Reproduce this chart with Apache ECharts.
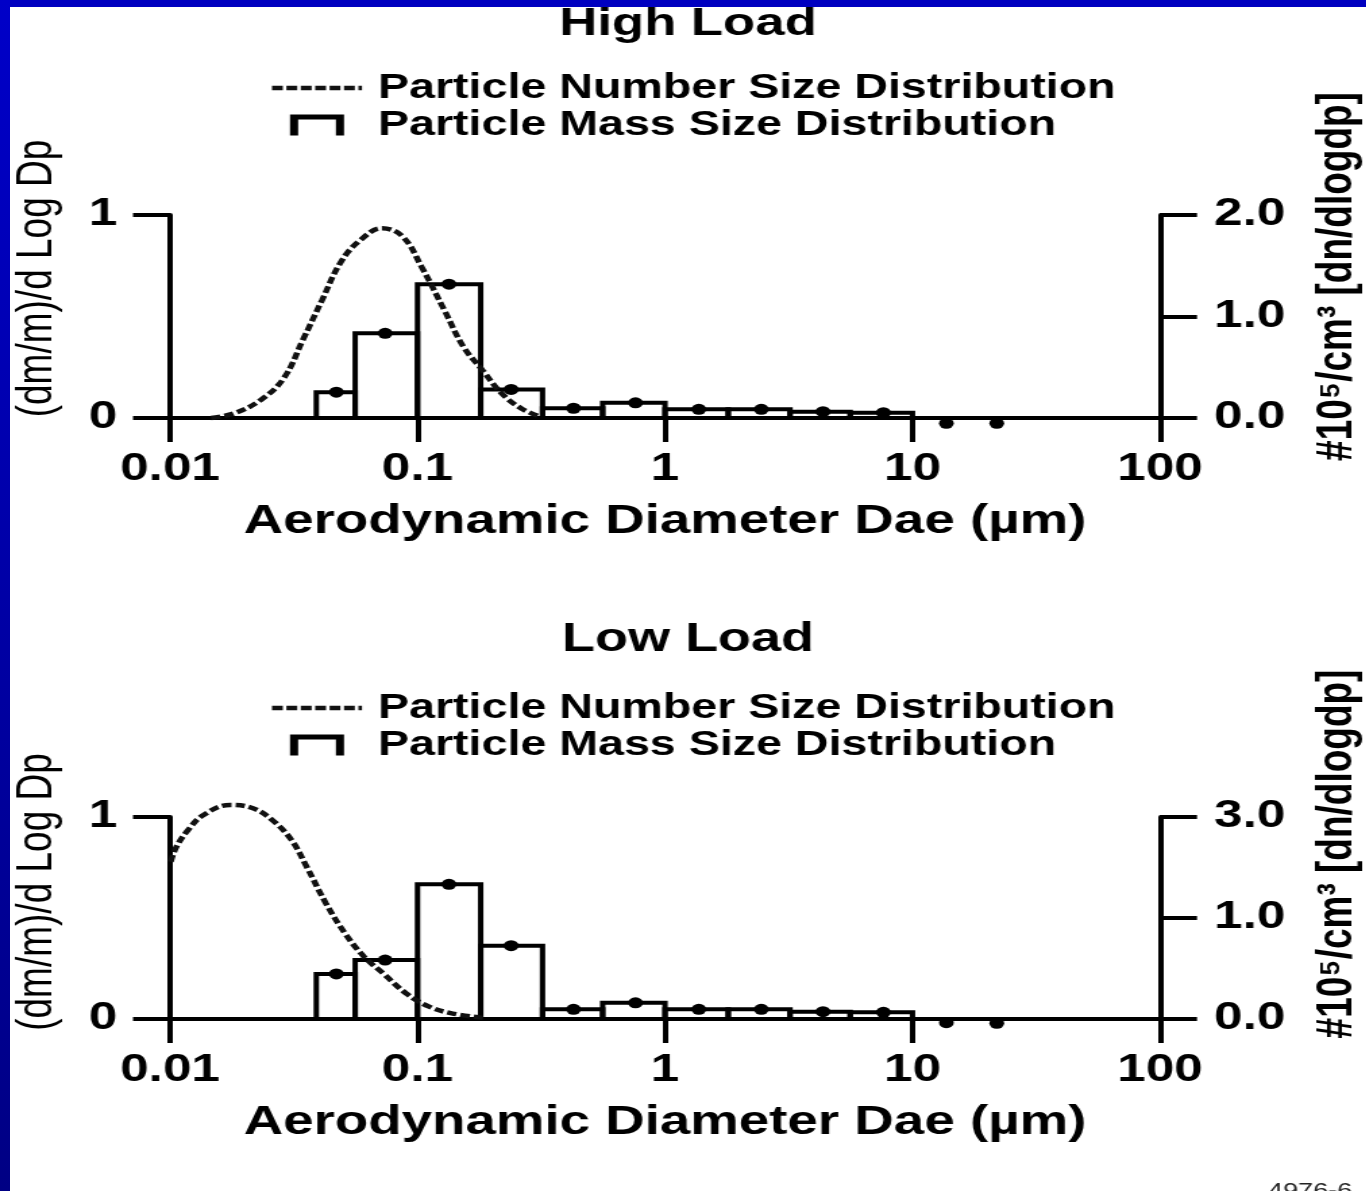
<!DOCTYPE html>
<html>
<head>
<meta charset="utf-8">
<script src="https://cdn.jsdelivr.net/npm/echarts@6/dist/echarts.min.js"></script>
<style>
  html, body { margin: 0; padding: 0; background: #fff; overflow: hidden; }
  /* the source picture is stretched sideways, so the chart is drawn narrow and widened */
  #chart { position: absolute; left: 0; top: 0; width: 1012px; height: 1191px;
           transform-origin: 0 0; transform: scaleX(1.35); }
  #topBar { position: absolute; left: 0; top: 0; width: 1366px; height: 7px; background: #0000c0; z-index: 2; }
  #leftBar { position: absolute; left: 0; top: 0; width: 10px; height: 1191px; z-index: 2;
             background: linear-gradient(#0000c8, #000084); }
</style>
</head>
<body>
<div id="chart"></div>
<div id="topBar"></div>
<div id="leftBar"></div>
<script>
// impactor stage edges (µm) and stage mid diameters where the dots sit
const stageLow = [0.039, 0.056, 0.1, 0.18, 0.32, 0.56, 1.0, 1.8, 3.2, 5.6, 10, 18];
const stageHigh = [0.056, 0.1, 0.18, 0.32, 0.56, 1.0, 1.8, 3.2, 5.6, 10, 18, 26.7];
const stageMid = [0.047, 0.074, 0.134, 0.239, 0.427, 0.76, 1.37, 2.45, 4.35, 7.63, 13.7, 21.9];

// (dm/m)/dlogDp, left axis
const highMass = [0.127, 0.417, 0.659, 0.141, 0.048, 0.075, 0.043, 0.043, 0.031, 0.026, -0.026, -0.026];
const lowMass = [0.223, 0.292, 0.667, 0.363, 0.048, 0.080, 0.048, 0.048, 0.036, 0.033, -0.018, -0.021];

// number size distribution, right axis
const highNumDiam = [0.01466, 0.01816, 0.02323, 0.02877, 0.03443, 0.04111, 0.04909, 0.05861, 0.07194,
  0.0869, 0.1038, 0.1285, 0.1535, 0.1832, 0.2193, 0.2618, 0.3126];
const highNumValue = [0, 0.046, 0.177, 0.39, 0.77, 1.16, 1.54, 1.75, 1.87,
  1.79, 1.49, 1.06, 0.70, 0.47, 0.24, 0.096, 0.013];
const lowNumDiam = [0.01007, 0.01062, 0.01183, 0.01365, 0.01746, 0.02163, 0.02588, 0.03097, 0.03565,
  0.04266, 0.05093, 0.06081, 0.07261, 0.08995, 0.1114, 0.1377, 0.1901];
const lowNumValue = [1.557, 1.706, 1.871, 2.02, 2.119, 2.086, 1.970, 1.772, 1.508,
  1.145, 0.848, 0.617, 0.452, 0.254, 0.122, 0.056, 0.007];

// tick labels
const xTickLabels = ["0.01", "0.1", "1", "10", "100"];
const massTickLabels = ["0", "1"];
const highNumTickLabels = ["0.0", "1.0", "2.0"];
const lowNumTickLabels = ["0.0", "1.0", "3.0"];

const numName = "Particle Number Size Distribution";
const massName = "Particle Mass Size Distribution";

const S = 1.35;
const px = v => v / S; // page x -> chart x
const FONT = "'Liberation Sans', Arial, 'DejaVu Sans', sans-serif";

const dashIcon = "path://M0,0h9v5h-9z M12,0h9v5h-9z M24,0h9v5h-9z M36,0h9v5h-9z M48,0h9v5h-9z M60,0h9v5h-9z M72,0h3v5h-3z";
const bracketIcon = "path://M0,21V0H40V21H34V5H6V21Z";

const chart = echarts.init(document.getElementById("chart"), null, { renderer: "canvas" });

function renderBars(params, api) {
  const v = api.value(2);
  if (v <= 0) return null;
  const p0 = api.coord([api.value(0), v]);
  const p1 = api.coord([api.value(1), 0]);
  return {
    type: "rect",
    shape: { x: p0[0], y: p0[1], width: p1[0] - p0[0], height: p1[1] - p0[1] },
    style: { fill: "none", stroke: "#000", lineWidth: 4 }
  };
}

function xAxisFor(gridIndex) {
  return {
    type: "log", logBase: 10, min: 0.01, max: 100, gridIndex: gridIndex,
    position: "bottom",
    axisLine: { onZero: false, lineStyle: { color: "#000", width: 4 } },
    axisTick: { length: 24, lineStyle: { color: "#000", width: 4 } },
    minorTick: { show: false },
    splitLine: { show: false },
    axisLabel: {
      margin: 33, color: "#000", fontSize: 38, fontWeight: "bold", fontFamily: FONT,
      showMinLabel: true, showMaxLabel: true,
      formatter: v => xTickLabels[Math.round(Math.log10(v)) + 2]
    },
    name: "Aerodynamic Diameter Dae (µm)",
    nameLocation: "middle", nameGap: 83,
    nameTextStyle: { color: "#000", fontSize: 40.5, fontWeight: "bold", fontFamily: FONT }
  };
}

function leftAxisFor(gridIndex, shiftUp) {
  return {
    type: "value", min: 0, max: 1, interval: 1, gridIndex: gridIndex, position: "left",
    axisLine: { show: true, lineStyle: { color: "#000", width: 4 } },
    axisTick: { show: true, length: px(37), lineStyle: { color: "#000", width: 4 } },
    splitLine: { show: false },
    axisLabel: {
      margin: 39, color: "#000", fontSize: 38, fontWeight: "bold", fontFamily: FONT,
      formatter: v => massTickLabels[v]
    },
    name: "(dm/m)/d Log Dp", nameLocation: "middle", nameRotate: 90, nameGap: 80,
    nameTextStyle: { color: "#000", fontSize: 37, fontFamily: FONT, padding: [0, 0, 0, shiftUp * 2] }
  };
}

function rightAxisFor(gridIndex, labels, shiftUp) {
  return {
    type: "value", min: 0, max: 2, interval: 1, gridIndex: gridIndex, position: "right",
    axisLine: { show: true, lineStyle: { color: "#000", width: 4 } },
    axisTick: { show: true, length: px(37), lineStyle: { color: "#000", width: 4 } },
    splitLine: { show: false },
    axisLabel: {
      margin: 40, color: "#000", fontSize: 38, fontWeight: "bold", fontFamily: FONT,
      formatter: v => labels[v]
    },
    name: "#10⁵/cm³ [dn/dlogdp]", nameLocation: "middle", nameRotate: 90, nameGap: 113,
    nameTextStyle: { color: "#000", fontSize: 37, fontWeight: "bold", fontFamily: FONT, padding: [0, 0, 0, shiftUp * 2] }
  };
}

function legendFor(top) {
  return {
    orient: "vertical", left: px(272), top: top, itemWidth: px(90), itemHeight: 21, itemGap: 0,
    selectedMode: false, padding: 0,
    itemStyle: { borderWidth: 0 },
    textStyle: {
      color: "#000", fontSize: 34.5, fontWeight: "bold", fontFamily: FONT, lineHeight: 37,
      padding: [0, 0, 0, px(378 - 272 - 90) - 5]
    },
    data: [
      { name: numName, icon: dashIcon, itemStyle: { color: "#111" } },
      { name: massName, icon: bracketIcon, itemStyle: { color: "#000" } }
    ]
  };
}

function barsData(mass) {
  return stageLow.map((lo, i) => [lo, stageHigh[i], mass[i]]);
}
function dotsData(mass) {
  return stageMid.map((d, i) => [d, mass[i]]);
}
function curveData(diam, vals) {
  return diam.map((d, i) => [d, vals[i]]);
}

function panelSeries(k, mass, diam, vals) {
  return [
    {
      name: massName, type: "custom", xAxisIndex: k, yAxisIndex: 2 * k,
      renderItem: renderBars, encode: { x: [0, 1], y: 2 }, clip: false,
      itemStyle: { color: "#000" }, data: barsData(mass), z: 2
    },
    {
      type: "scatter", xAxisIndex: k, yAxisIndex: 2 * k, symbol: "circle", symbolSize: [11, 11],
      clip: false, itemStyle: { color: "#000", opacity: 1 }, data: dotsData(mass), z: 4, silent: true
    },
    {
      name: numName, type: "line", xAxisIndex: k, yAxisIndex: 2 * k + 1,
      smooth: 0.4, showSymbol: false, clip: false, color: "#111",
      lineStyle: { color: "#111", width: 4.5, type: [7, 3] },
      data: curveData(diam, vals), z: 3
    }
  ];
}

const option = {
  backgroundColor: "#fff",
  animation: false,
  title: [
    { text: "High Load", left: px(688), top: 5, textAlign: "center", padding: 0,
      textStyle: { color: "#000", fontSize: 39, fontWeight: "bold", fontFamily: FONT } },
    { text: "Low Load", left: px(688), top: 620, textAlign: "center", padding: 0,
      textStyle: { color: "#000", fontSize: 40, fontWeight: "bold", fontFamily: FONT } }
  ],
  legend: [legendFor(69.5), legendFor(689.5)],
  grid: [
    { left: px(170), width: px(990), top: 215, height: 203, containLabel: false, outerBoundsMode: "none" },
    { left: px(170), width: px(990), top: 817, height: 202, containLabel: false, outerBoundsMode: "none" }
  ],
  xAxis: [xAxisFor(0), xAxisFor(1)],
  yAxis: [
    leftAxisFor(0, 38), rightAxisFor(0, highNumTickLabels, 40),
    leftAxisFor(1, 26), rightAxisFor(1, lowNumTickLabels, 64)
  ],
  graphic: [
    { type: "text", left: px(1268), top: 1181,
      style: { text: "4976-6", fill: "#222", fontSize: 20, fontFamily: FONT } }
  ],
  series: [
    ...panelSeries(0, highMass, highNumDiam, highNumValue),
    ...panelSeries(1, lowMass, lowNumDiam, lowNumValue)
  ]
};

chart.setOption(option);
</script>
</body>
</html>
